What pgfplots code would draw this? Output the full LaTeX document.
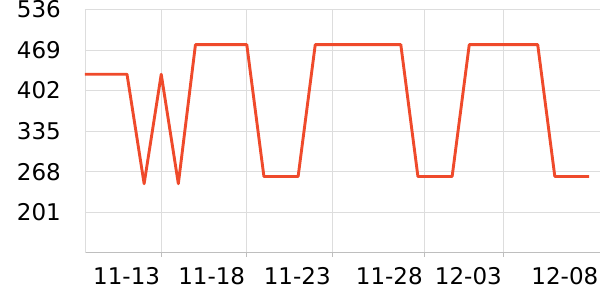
\documentclass[border=0pt]{standalone}
\usepackage{fontspec}
\setmainfont{DejaVu Sans}
\usepackage{pgfplots}
\pgfplotsset{compat=1.18}
\definecolor{lineC}{RGB}{239,74,43}
\definecolor{gridC}{RGB}{221,221,221}
\definecolor{axisC}{RGB}{190,190,190}
\begin{document}
\begin{tikzpicture}
\begin{axis}[
  scale only axis,
  width=515pt, height=243.1pt,
  xmin=-2.455, xmax=27.64,
  ymin=134, ymax=536,
  axis lines*=left,
  axis line style={draw=axisC, line width=0.8pt},
  x axis line style={-},
  y axis line style={-, draw=gridC},
  ytick={201,268,335,402,469,536},
  xtick={2.03,7,12,17.38,22,27.64},
  xticklabels={11-13,11-18,11-23,11-28,12-03,12-08},
  grid=major,
  major grid style={draw=gridC, line width=0.8pt},
  xtick style={draw=axisC, line width=0.8pt},
  ytick style={draw=none},
  tick align=outside,
  major tick length=4pt,
  /pgf/number format/assume math mode=true,
  /pgf/number format/1000 sep={},
  tick label style={font=\fontsize{23}{27}\selectfont, text=black},
  yticklabel style={anchor=east, inner sep=0pt, xshift=-20pt},
  xticklabel style={anchor=north east, inner sep=0pt, xshift=-1.5pt, yshift=-10.3pt},
  clip=true,
]
\addplot[color=lineC, line width=2.9pt, line join=round] coordinates {
  (-3,429) (-2,429) (-1,429) (0,429)
  (1,248) (2,429) (3,248)
  (4,478) (5,478) (6,478) (7,478)
  (8,260) (9,260) (10,260)
  (11,478) (12,478) (13,478) (14,478) (15,478) (16,478)
  (17,260) (18,260) (19,260)
  (20,478) (21,478) (22,478) (23,478) (24,478)
  (25,260) (26,260) (27,260)
};
\end{axis}
\pgfresetboundingbox
\useasboundingbox ([xshift=-85pt,yshift=-47.3pt]current axis.south west) rectangle ([yshift=9.57pt]current axis.north east);
\end{tikzpicture}
\end{document}
